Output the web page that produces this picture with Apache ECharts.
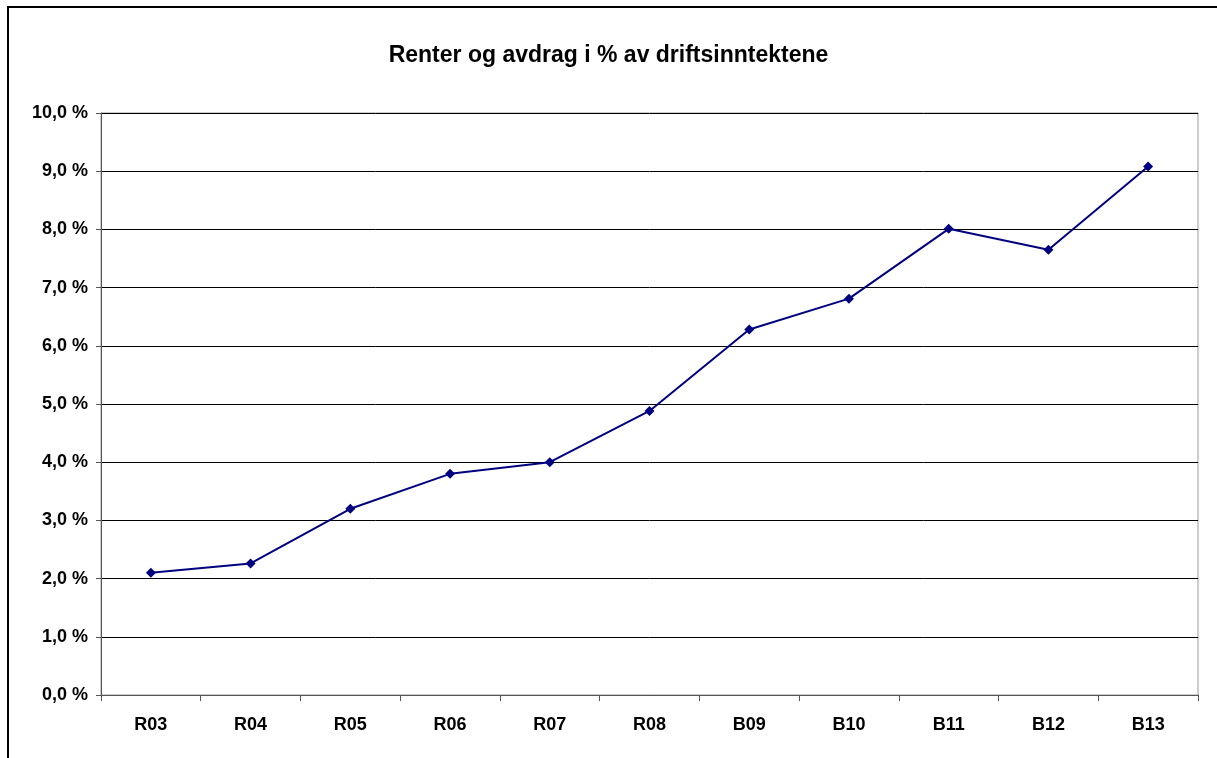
<!DOCTYPE html>
<html>
<head>
<meta charset="utf-8">
<script src="https://cdn.jsdelivr.net/npm/echarts@6/dist/echarts.min.js"></script>
<style>
html,body{margin:0;padding:0;background:#fff;}
#chart{width:1217px;height:758px;}
</style>
</head>
<body>
<div id="chart"></div>
<script>
const titleText = 'Renter og avdrag i % av driftsinntektene';
const categories = ['R03','R04','R05','R06','R07','R08','B09','B10','B11','B12','B13'];
const values = [2.10, 2.26, 3.20, 3.80, 4.00, 4.88, 6.28, 6.81, 8.01, 7.65, 9.08];

const chart = echarts.init(document.getElementById('chart'), null, {renderer:'canvas'});
chart.setOption({
  backgroundColor: '#fff',
  animation: false,
  title: {
    text: titleText,
    left: 'center',
    top: 39,
    textStyle: {fontFamily: 'Liberation Sans, Arial', fontWeight: 'bold', fontSize: 23, color: '#000'}
  },
  graphic: [{
    type: 'rect',
    shape: {x: 8, y: 7, width: 1400, height: 1000},
    style: {fill: 'none', stroke: '#000', lineWidth: 2},
    silent: true
  }],
  grid: {
    left: 101, right: 19, top: 113, bottom: 63,
    show: true, borderColor: '#999', borderWidth: 1, backgroundColor: 'transparent'
  },
  xAxis: {
    type: 'category',
    data: categories,
    boundaryGap: true,
    axisLine: {lineStyle: {color: '#555', width: 1}},
    axisTick: {show: true, length: 6, lineStyle: {color: '#555'}},
    axisLabel: {fontFamily: 'Liberation Sans, Arial', fontWeight: 'bold', fontSize: 18, color: '#000', margin: 21},
    splitLine: {show: false}
  },
  yAxis: {
    type: 'value',
    min: 0, max: 10, interval: 1,
    axisLine: {show: true, lineStyle: {color: '#555', width: 1}},
    axisTick: {show: true, length: 5, lineStyle: {color: '#555'}},
    axisLabel: {
      fontFamily: 'Liberation Sans, Arial', fontWeight: 'bold', fontSize: 18, color: '#000', margin: 13,
      formatter: v => v.toFixed(1).replace('.', ',') + ' %'
    },
    splitLine: {show: true, lineStyle: {color: '#000', width: 1}}
  },
  series: [{
    type: 'line',
    data: values,
    symbol: 'diamond',
    symbolSize: 10,
    lineStyle: {color: '#000080', width: 2},
    itemStyle: {color: '#000080'}
  }]
});
</script>
</body>
</html>
